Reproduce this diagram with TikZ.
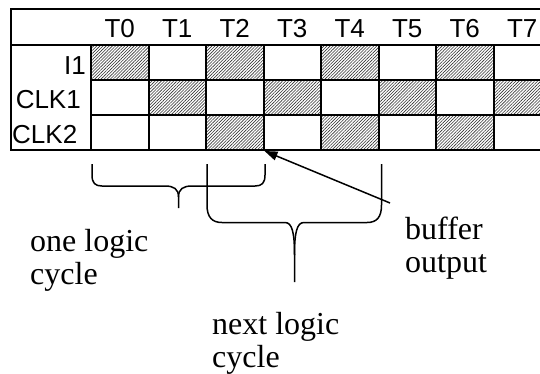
\documentclass[tikz,border=0pt]{standalone}
\usepackage{fontspec}
\setmainfont{Liberation Serif}
\newfontfamily\tablefont{Liberation Sans}
\usetikzlibrary{arrows.meta,patterns.meta}

\begin{document}
\begin{tikzpicture}[x=1pt,y=-1pt,
  grid/.style={line width=2pt},
  hatched/.style={pattern={Lines[angle=45,distance=2.2pt,line width=0.6pt]},pattern color=black!80},
  head/.style={font=\tablefont\fontsize{26}{26}\selectfont,inner sep=0pt},
  note/.style={font=\fontsize{32}{33}\selectfont,align=left,inner sep=0pt,anchor=base west},
  bracepath/.style={line width=1.5pt},
  pointer/.style={line width=1.5pt,-{Triangle[length=13pt,width=9pt]}}]
\useasboundingbox (0,0) rectangle (540,373);

\begin{scope}
  \clip (0,0) rectangle (540,373);
  % shaded time slots: I1, CLK1, CLK2
  \foreach \c in {0,2,4,6} \fill[hatched] ({91+57.5*\c},45) rectangle ++(57.5,35);
  \foreach \c in {1,3,5,7} \fill[hatched] ({91+57.5*\c},80) rectangle ++(57.5,35);
  \foreach \c in {2,4,6}   \fill[hatched] ({91+57.5*\c},115) rectangle ++(57.5,35);
  % table rules
  \draw[grid] (560,9) -- (11,9) -- (11,150) -- (560,150);
  \draw[grid] (11,45) -- (560,45);
  \draw[grid] (91,80) -- (560,80);
  \draw[grid] (91,115) -- (560,115);
  \foreach \c in {0,...,8} \draw[grid] ({91+57.5*\c},45) -- ++(0,105);
\end{scope}

% column and row headings, set on common baselines
\foreach \c in {0,...,7} \node[head,anchor=base] (t\c) at ({91+57.5*(\c+0.5)},37) {T\c};
\node[head,anchor=base east] (rowi) at (86,74) {I1};
\node[head,anchor=base east] (rowclka) at (81,108.5) {CLK1};
\node[head,anchor=base west] (rowclkb) at (12,143) {CLK2};

% braces spanning T0--T2 and T2--T4
\draw[bracepath] (92,164) -- (92,175) .. controls (92,183) and (95,186) .. (102,186)
  -- (165,186) .. controls (174,186) and (178.5,189) .. (178.5,197) -- (178.5,208);
\draw[bracepath] (178.5,197) .. controls (178.5,189) and (183,186) .. (192,186)
  -- (255,186) .. controls (262,186) and (265,183) .. (265,175) -- (265,164);
\draw[bracepath] (207,164) -- (207,205) .. controls (207,217) and (212,222.5) .. (222,222.5)
  -- (285,222.5) .. controls (292,222.5) and (294.5,232) .. (294.5,255) -- (294.5,282);
\draw[bracepath] (294.5,255) .. controls (294.5,232) and (297,222.5) .. (304,222.5)
  -- (367,222.5) .. controls (377,222.5) and (381.5,217) .. (381.5,205) -- (381.5,164);

% labels (anchored at the baseline of their last line)
\node[note] (one) at (30,284) {one logic\\cycle};
\node[note] (next) at (212,367) {next logic\\cycle};
\node[note] (buf) at (405,272) {buffer\\output};

% pointer to the buffer output instant
\coordinate (slot) at (264.5,151);
\coordinate (tail) at (390,203);
\draw[pointer] (tail) -- (slot);
\end{tikzpicture}
\end{document}
